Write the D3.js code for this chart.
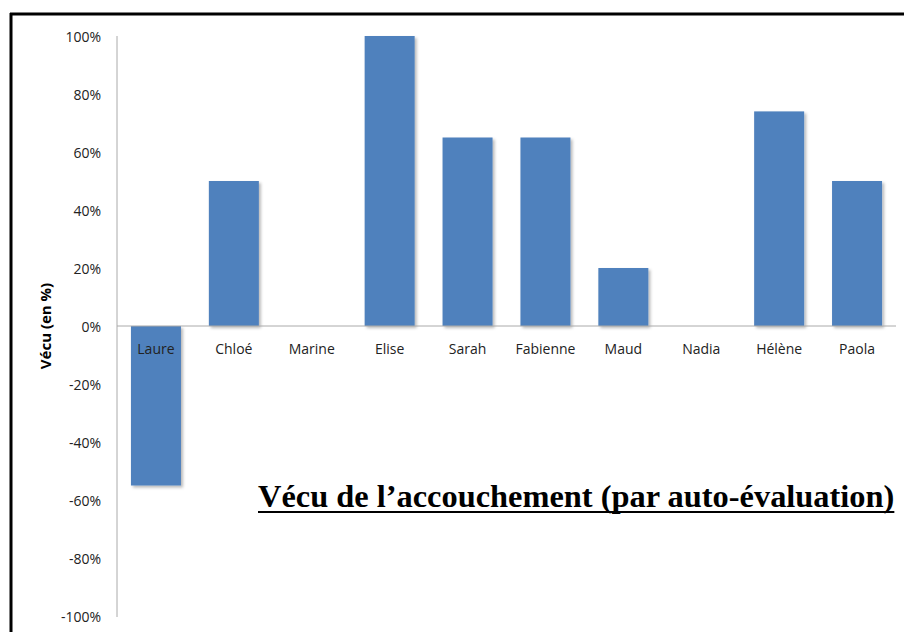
<!DOCTYPE html>
<html>
<head>
<meta charset="utf-8">
<script src="https://cdn.jsdelivr.net/npm/d3@7"></script>
<style>
  body { margin: 0; background: #fff; }
  svg { display: block; }
</style>
</head>
<body>
<script>
// data
var names = ["Laure", "Chloé", "Marine", "Elise", "Sarah", "Fabienne", "Maud", "Nadia", "Hélène", "Paola"];
var vecu = [-55, 50, 0, 100, 65, 65, 20, 0, 74, 50];
var yTicks = [-100, -80, -60, -40, -20, 0, 20, 40, 60, 80, 100];

var width = 904, height = 632;

var svg = d3.select("body").append("svg")
    .attr("width", width)
    .attr("height", height);

// bar shadow
var filter = svg.append("defs").append("filter")
    .attr("id", "shadow")
    .attr("x", "-20%").attr("y", "-20%")
    .attr("width", "150%").attr("height", "150%");
filter.append("feDropShadow")
    .attr("dx", 2).attr("dy", 2)
    .attr("stdDeviation", 1.5)
    .attr("flood-color", "#000")
    .attr("flood-opacity", 0.28);

// frame (top + left)
svg.append("line")
    .attr("x1", 10).attr("x2", width)
    .attr("y1", 14).attr("y2", 14)
    .style("stroke", "#000").style("stroke-width", 3);
svg.append("line")
    .attr("x1", 11).attr("x2", 11)
    .attr("y1", 13).attr("y2", height)
    .style("stroke", "#000").style("stroke-width", 3);

// scales
var x = d3.scaleBand()
    .domain(names)
    .range([117, 896])
    .paddingInner(0.358)
    .paddingOuter(0.179);

var y = d3.scaleLinear()
    .domain([-100, 100])
    .range([616, 36]);

// bars
svg.selectAll(".bar")
    .data(vecu)
  .enter().append("rect")
    .attr("class", "bar")
    .attr("x", function(d, i) { return x(names[i]); })
    .attr("width", x.bandwidth())
    .attr("y", function(d) { return y(Math.max(0, d)); })
    .attr("height", function(d) { return Math.abs(y(d) - y(0)); })
    .style("fill", "#4f81bd")
    .attr("filter", "url(#shadow)");

// zero line
svg.append("line")
    .attr("x1", 117).attr("x2", 896)
    .attr("y1", y(0)).attr("y2", y(0))
    .style("stroke", "#aaa").style("stroke-width", 1);

// y axis
var yAxis = svg.append("g")
    .attr("transform", "translate(117,0)")
    .call(d3.axisLeft(y)
      .tickValues(yTicks)
      .tickSize(0)
      .tickPadding(16)
      .tickFormat(function(d) { return d + "%"; }));
yAxis.select(".domain")
    .attr("d", "M0," + y(100) + "V" + (y(-100) + 1))
    .style("stroke", "#aaa");
yAxis.selectAll("text")
    .attr("dy", "0.4em")
    .style("font-family", "'Open Sans', sans-serif")
    .style("font-size", "14px")
    .style("fill", "#222");

// category labels
svg.selectAll(".cat")
    .data(names)
  .enter().append("text")
    .attr("class", "cat")
    .attr("x", function(d) { return x(d) + x.bandwidth() / 2; })
    .attr("y", y(0) + 28)
    .attr("text-anchor", "middle")
    .style("font-family", "'Open Sans', sans-serif")
    .style("font-size", "14px")
    .style("fill", "#222")
    .text(function(d) { return d; });

// y axis title
svg.append("text")
    .attr("transform", "translate(51," + y(0) + ") rotate(-90)")
    .attr("text-anchor", "middle")
    .style("font-family", "'Open Sans', sans-serif")
    .style("font-size", "15px")
    .style("font-weight", "bold")
    .style("fill", "#000")
    .text("Vécu (en %)");

// chart title + underline
var title = svg.append("text")
    .attr("x", 258)
    .attr("y", 507)
    .style("font-family", "'Liberation Serif', 'Times New Roman', serif")
    .style("font-size", "32.4px")
    .style("font-weight", "bold")
    .style("fill", "#000")
    .text("Vécu de l’accouchement (par auto-évaluation)");

var tlen = title.node().getComputedTextLength();
svg.append("line")
    .attr("x1", 258).attr("x2", 258 + tlen)
    .attr("y1", 512).attr("y2", 512)
    .style("stroke", "#000").style("stroke-width", 2);
</script>
</body>
</html>
